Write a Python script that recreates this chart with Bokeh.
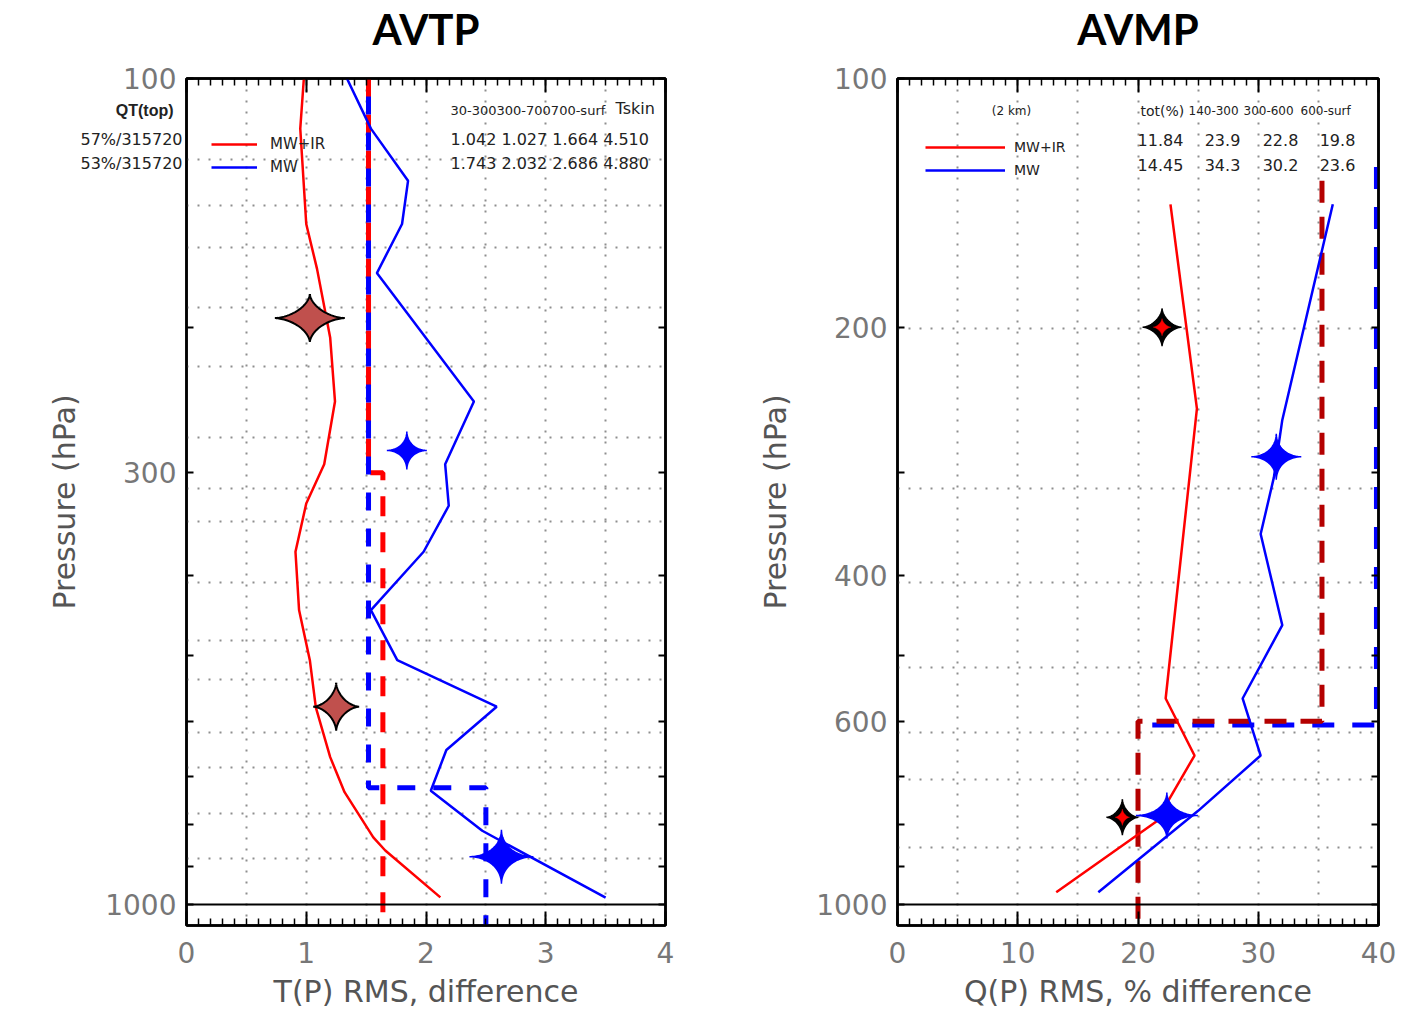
import numpy as np
from bokeh.plotting import figure
from bokeh.layouts import row
from bokeh.models import (Range1d, FixedTicker, LinearAxis, LogAxis, Span, Label,
                          Legend, LegendItem, CustomJSTickFormatter, ColumnDataSource)
from bokeh.transform import dodge
from bokeh.embed import file_html
from bokeh.resources import INLINE

# ------------------------------------------------------------------ data
# AVTP : temperature RMS difference vs pressure
avtp_p_mwir = [100, 115, 150, 170, 206, 246, 293, 327, 374, 440, 506, 577, 663, 731, 829, 860, 980]
avtp_t_mwir = [0.98, 0.95, 1.00, 1.09, 1.20, 1.24, 1.15, 1.00, 0.91, 0.94, 1.03, 1.08, 1.20, 1.32, 1.56, 1.66, 2.12]
avtp_p_mw = [100, 115, 133, 150, 172, 246, 293, 329, 374, 440, 506, 576, 650, 728, 814, 981]
avtp_t_mw = [1.34, 1.54, 1.85, 1.80, 1.59, 2.40, 2.16, 2.19, 1.98, 1.54, 1.76, 2.59, 2.17, 2.04, 2.47, 3.50]
# requirement step lines (dashed)
avtp_req_mwir_x = [1.52, 1.52, 1.64, 1.64]
avtp_req_mwir_p = [100, 300, 300, 1100]
avtp_req_mw_x = [1.52, 1.52, 2.50, 2.50]
avtp_req_mw_p = [100, 722, 722, 1100]
# stars
avtp_star_ir_x = [1.03, 1.25]
avtp_star_ir_p = [195, 576]
avtp_star_mw_x = [1.84, 2.63]
avtp_star_mw_p = [282, 875]
avtp_stat_head = ["30-300300-700700-surf", "Tskin"]
avtp_stat_mwir = [1.042, 1.027, 1.664, 4.510]
avtp_stat_mw = [1.743, 2.032, 2.686, 4.880]
avtp_qt_label = ["QT(top)"]
avtp_yield = ["57%/315720", "53%/315720"]

# AVMP : water vapour RMS % difference vs pressure
avmp_p_mwir = [142, 251, 563, 660, 794, 966]
avmp_q_mwir = [22.7, 24.9, 22.3, 24.7, 21.5, 13.2]
avmp_p_mw = [142, 259, 304, 356, 459, 563, 660, 770, 966]
avmp_q_mw = [36.2, 32.0, 31.3, 30.2, 32.0, 28.7, 30.2, 25.0, 16.7]
avmp_req_mwir_x = [35.3, 35.3, 20.0, 20.0]
avmp_req_mwir_p = [133, 600, 600, 1100]
avmp_req_mw_x = [40.0, 40.0, 21.0]
avmp_req_mw_p = [128, 606, 606]
avmp_star_ir_x = [22.0, 18.7]
avmp_star_ir_p = [200, 784]
avmp_star_mw_x = [31.5, 22.4]
avmp_star_mw_p = [287, 780]
avmp_stat_head = ["tot(%)", "140-300", "300-600", "600-surf"]
avmp_stat_mwir = ["11.84", "23.9", "22.8", "19.8"]
avmp_stat_mw = ["14.45", "34.3", "30.2", "23.6"]

# axes
p_ticks = [100, 200, 300, 400, 500, 600, 700, 800, 900, 1000]
avtp_ylabels = [100, 300, 1000]
avmp_ylabels = [100, 200, 400, 600, 1000]
avtp_xticks = [0, 1, 2, 3, 4]
avmp_xticks = [0, 10, 20, 30, 40]
avtp_xgrid = [0.5, 1.0, 1.5, 2.0, 2.5, 3.0, 3.5]
avmp_xgrid = [5, 10, 15, 20, 25, 30, 35]
avtp_ygrid = [125.5, 142.3, 160.0, 189.1, 223.0, 271.7, 313.3, 343.6, 407.4,
              478.7, 533.9, 619.2, 682.4, 775.6, 879.6]
avmp_ygrid = [200.5, 313.3, 407.4, 516.4, 619.2, 705.6, 853.0]

# ------------------------------------------------------------------ layout constants
H = 1030
TOP, BOT = 78, 925
FRAME_H = BOT - TOP
P_TOP, P_BOT = 100.0, 1060.0
PPD = FRAME_H / np.log10(P_BOT / P_TOP)   # pixels per decade

RED, BLUE, DRED = "#ff0000", "#0000ff", "#b40000"
BROWN = "#c0504d"
TICKC, LABC, TXT = "#777777", "#555555", "#222222"
FONT = "DejaVu Sans"


def py2p(py):
    return P_TOP * 10 ** ((py - TOP) / PPD)


def star(xc, pc, hw, hh, xppu, k=3.6):
    t = np.linspace(0, 2 * np.pi, 161)
    c, s = np.cos(t), np.sin(t)
    dx = hw * np.sign(c) * np.abs(c) ** k
    dy = hh * np.sign(s) * np.abs(s) ** k
    return list(xc + dx / xppu), list(pc * 10 ** (dy / PPD))


def make_panel(width, left, right, xmax, xticks, xminor, xgrid, ygrid, ylabels, xlabel,
               title, title_x):
    p = figure(width=width, height=H, x_range=Range1d(0, xmax), y_range=Range1d(P_BOT, P_TOP),
               y_axis_type="log", output_backend="svg", toolbar_location=None, title=None,
               min_border_left=left, min_border_right=right,
               min_border_top=TOP, min_border_bottom=H - BOT)
    p.background_fill_color = "white"
    p.border_fill_color = "white"
    p.outline_line_color = "black"
    p.outline_line_width = 2.5
    p.outline_line_alpha = 1

    xt = FixedTicker(ticks=xticks, minor_ticks=xminor)
    xa = p.xaxis[0]
    xa.ticker = xt
    xa.axis_label = xlabel
    ya = p.yaxis[0]
    ya.ticker = FixedTicker(ticks=p_ticks, minor_ticks=[])
    ya.formatter = CustomJSTickFormatter(
        args=dict(labs=ylabels),
        code="const t = Math.round(tick); return labs.includes(t) ? String(t) : '';")
    ya.axis_label = "Pressure (hPa)"

    empty = CustomJSTickFormatter(code="return '';")
    # the top axis carries the panel title as the label of its centre tick
    xa_top = LinearAxis(ticker=xt, formatter=CustomJSTickFormatter(
        args=dict(title=title, c=title_x),
        code="return Math.abs(tick - c) < 1e-9 ? title : '';"))
    ya_right = LogAxis(ticker=FixedTicker(ticks=p_ticks, minor_ticks=[]), formatter=empty)
    p.add_layout(xa_top, "above")
    p.add_layout(ya_right, "right")

    for ax in (xa, xa_top):
        ax.major_tick_in = 14
        ax.major_tick_out = 0
        ax.minor_tick_in = 7
        ax.minor_tick_out = 0
    for ax in (ya, ya_right):
        ax.major_tick_in = 7
        ax.major_tick_out = 0
        ax.minor_tick_in = 0
        ax.minor_tick_out = 0
    for ax in (xa, xa_top, ya, ya_right):
        ax.axis_line_color = "black"
        ax.axis_line_width = 2.5
        ax.major_tick_line_color = "black"
        ax.major_tick_line_width = 2
        ax.minor_tick_line_color = "black"
        ax.minor_tick_line_width = 1.5
        ax.major_label_text_font = FONT
        ax.major_label_text_font_size = "28px"
        ax.major_label_text_color = TICKC
        ax.axis_label_text_font = FONT
        ax.axis_label_text_font_size = "30px"
        ax.axis_label_text_font_style = "normal"
        ax.axis_label_text_color = LABC
    xa_top.major_label_text_font = "Lato"
    xa_top.major_label_text_font_style = "bold"
    xa_top.major_label_text_font_size = "42px"
    xa_top.major_label_text_color = "black"
    xa_top.major_label_standoff = 25
    xa.major_label_standoff = 16
    xa.axis_label_standoff = 8
    ya.major_label_standoff = 10
    ya.axis_label_standoff = 20
    ya_right.major_label_standoff = 0

    p.xgrid.ticker = FixedTicker(ticks=xgrid)
    p.ygrid.ticker = FixedTicker(ticks=ygrid)
    for g in (p.xgrid, p.ygrid):
        g.grid_line_color = "#8e8e8e"
        g.grid_line_dash = "2 9"
        g.grid_line_width = 2
    p.add_layout(Span(location=1000, dimension="width", line_color="black", line_width=2))
    return p


def lab(p, x, y, text, size, align="left", font=FONT, style="normal", color=TXT):
    p.add_layout(Label(x=x, y=y, text=text, text_font=font, text_font_size=size,
                       text_font_style=style, text_align=align, text_baseline="middle",
                       text_color=color))


def margin_text_axis(p, pressures, labels, standoff, font, style, size):
    """Texts in the left margin, written as tick labels of a bare extra axis."""
    ax = LogAxis(ticker=FixedTicker(ticks=pressures, minor_ticks=[]),
                 formatter=CustomJSTickFormatter(args=dict(labs=labels),
                                                 code="return labs[index];"))
    ax.axis_line_color = None
    ax.major_tick_line_color = None
    ax.minor_tick_line_color = None
    ax.major_tick_in = 0
    ax.major_tick_out = 0
    ax.minor_tick_in = 0
    ax.minor_tick_out = 0
    ax.major_label_standoff = standoff
    ax.major_label_text_font = font
    ax.major_label_text_font_style = style
    ax.major_label_text_font_size = size
    ax.major_label_text_color = TXT
    p.add_layout(ax, "left")


# ------------------------------------------------------------------ AVTP panel
L_LEFT, L_RIGHT, L_W = 186, 43, 708
XPPU_L = (L_W - L_LEFT - L_RIGHT) / 4.0
p1 = make_panel(L_W, L_LEFT, L_RIGHT, 4, avtp_xticks,
                list(np.round(np.arange(0, 4.001, 0.1), 3)), avtp_xgrid, avtp_ygrid,
                avtp_ylabels, "T(P) RMS, difference", "AVTP", 2)


def lx(px):
    return (px - L_LEFT) / XPPU_L


p1.line(avtp_req_mwir_x, avtp_req_mwir_p, line_color=RED, line_width=5, line_dash="20 16")
p1.line(avtp_req_mw_x, avtp_req_mw_p, line_color=BLUE, line_width=5, line_dash="18 18",
        line_dash_offset=18)
r1 = p1.line(avtp_t_mwir, avtp_p_mwir, line_color=RED, line_width=2.5)
r2 = p1.line(avtp_t_mw, avtp_p_mw, line_color=BLUE, line_width=2.5)

sizes_ir = [(35, 24), (23, 24)]
sizes_mw = [(20, 19), (32, 27)]
xs, ys = [], []
for (x, pp), (hw, hh) in zip(zip(avtp_star_ir_x, avtp_star_ir_p), sizes_ir):
    a, b = star(x, pp, hw, hh, XPPU_L, k=3.2)
    xs.append(a); ys.append(b)
p1.patches(xs, ys, fill_color=BROWN, line_color="black", line_width=2)
xs, ys = [], []
for (x, pp), (hw, hh) in zip(zip(avtp_star_mw_x, avtp_star_mw_p), sizes_mw):
    a, b = star(x, pp, hw, hh, XPPU_L)
    xs.append(a); ys.append(b)
p1.patches(xs, ys, fill_color=BLUE, line_color=BLUE, line_width=1.5)

leg1 = Legend(items=[LegendItem(label="MW+IR", renderers=[r1]), LegendItem(label="MW", renderers=[r2])],
              location=(25, 748), glyph_width=46, glyph_height=20, label_height=20,
              label_standoff=13, spacing=3, padding=0, margin=0,
              border_line_color=None, background_fill_alpha=0,
              label_text_font=FONT, label_text_font_size="15px", label_text_color=TXT)
p1.add_layout(leg1)

margin_text_axis(p1, [py2p(139), py2p(163)], avtp_yield, -138, FONT, "normal", "16px")
margin_text_axis(p1, [py2p(110)], avtp_qt_label, -129, "Liberation Sans", "bold", "16px")

lab(p1, lx(450), py2p(110), avtp_stat_head[0], "13px", "left")
lab(p1, lx(615), py2p(108), avtp_stat_head[1], "16px", "left")
lab(p1, lx(450), py2p(139), " ".join(f"{v:.3f}" for v in avtp_stat_mwir), "16px", "left")
lab(p1, lx(450), py2p(163), " ".join(f"{v:.3f}" for v in avtp_stat_mw), "16px", "left")

# ------------------------------------------------------------------ AVMP panel
R_LEFT, R_RIGHT, R_W = 189, 36, 706
XPPU_R = (R_W - R_LEFT - R_RIGHT) / 40.0
p2 = make_panel(R_W, R_LEFT, R_RIGHT, 40, avmp_xticks, list(range(0, 41)), avmp_xgrid,
                avmp_ygrid, avmp_ylabels, "Q(P) RMS, % difference", "AVMP", 20)
R_X0 = L_W + R_LEFT


def rx(px):
    return (px - R_X0) / XPPU_R


src_req_mw = ColumnDataSource(dict(x=avmp_req_mw_x, p=avmp_req_mw_p))
p2.line(x=dodge("x", -0.17, range=p2.x_range), y="p", source=src_req_mw,
        line_color=BLUE, line_width=5, line_dash="22 18")
p2.line(avmp_req_mwir_x, avmp_req_mwir_p, line_color=DRED, line_width=5, line_dash="22 14")
s1 = p2.line(avmp_q_mwir, avmp_p_mwir, line_color=RED, line_width=2.5)
s2 = p2.line(avmp_q_mw, avmp_p_mw, line_color=BLUE, line_width=2.5)

sizes_ir = [(19.5, 19), (16, 18)]
sizes_mw = [(25, 23), (31, 23)]
xs, ys, xs2, ys2 = [], [], [], []
for (x, pp), (hw, hh) in zip(zip(avmp_star_ir_x, avmp_star_ir_p), sizes_ir):
    a, b = star(x, pp, hw, hh, XPPU_R, k=3.2)
    xs.append(a); ys.append(b)
    a, b = star(x, pp, hw * 0.45, hh * 0.45, XPPU_R, k=3.0)
    xs2.append(a); ys2.append(b)
p2.patches(xs, ys, fill_color="black", line_color="black", line_width=1.5)
p2.patches(xs2, ys2, fill_color=RED, line_color=RED, line_width=0.5)
xs, ys = [], []
for (x, pp), (hw, hh) in zip(zip(avmp_star_mw_x, avmp_star_mw_p), sizes_mw):
    a, b = star(x, pp, hw, hh, XPPU_R)
    xs.append(a); ys.append(b)
p2.patches(xs, ys, fill_color=BLUE, line_color=BLUE, line_width=1.5)

leg2 = Legend(items=[LegendItem(label="MW+IR", renderers=[s1]), LegendItem(label="MW", renderers=[s2])],
              location=(28, 745), glyph_width=80, glyph_height=20, label_height=20,
              label_standoff=9, spacing=3, padding=0, margin=0,
              border_line_color=None, background_fill_alpha=0,
              label_text_font=FONT, label_text_font_size="14px", label_text_color=TXT)
p2.add_layout(leg2)

lab(p2, rx(1011), py2p(110), "(2 km)", "12px", "center")
head_x = [1140, 1188, 1243, 1300]
head_sz = ["14px", "12px", "12px", "12px"]
for hx, hs, t in zip(head_x, head_sz, avmp_stat_head):
    lab(p2, rx(hx), py2p(110), t, hs, "left")
val_x = [1160, 1222, 1280, 1337]
for vx, t in zip(val_x, avmp_stat_mwir):
    lab(p2, rx(vx), py2p(139), t, "16px", "center")
for vx, t in zip(val_x, avmp_stat_mw):
    lab(p2, rx(vx), py2p(164), t, "16px", "center")

layout = row(p1, p2)
open("out.html", "w").write(file_html(layout, INLINE))
